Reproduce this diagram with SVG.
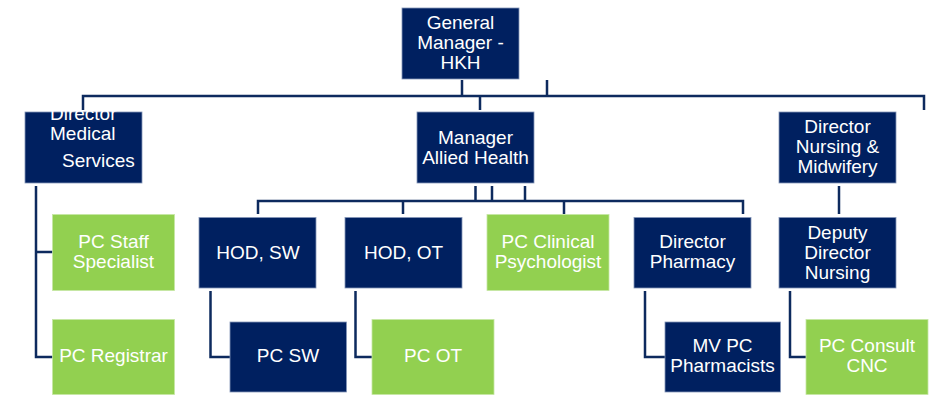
<svg xmlns="http://www.w3.org/2000/svg" width="935" height="397" viewBox="0 0 935 397">
  <style>
    .navy { fill: #002060; stroke: #8496b8; stroke-width: 0.8; }
    .green { fill: #92d050; stroke: #c6e6a4; stroke-width: 0.8; }
    .lbl { font-family: "Liberation Sans", Arial, sans-serif; font-size: 19px; fill: #ffffff; text-anchor: middle; }
    .left { text-anchor: start; }
    .wire { fill: none; stroke: #0d2a5e; stroke-width: 2.5; stroke-linejoin: miter; }
  </style>
  <rect width="935" height="397" fill="#ffffff"/>

  <!-- connectors -->
  <g id="connectors" class="wire">
    <!-- top bus -->
    <path d="M462 80 V96 M547 80 V96 M83 110 V96 H924 V110 M480 96 V110"/>
    <!-- allied health bus -->
    <path d="M475.5 186 V201 M492 186 V201 M525 186 V201 M258 214 V201 H743 V214 M403 201 V214 M564 201 V214"/>
    <!-- medical services -->
    <path d="M36 186 V357 H53 M36 252 H53"/>
    <!-- nursing -->
    <path d="M839 186 V214"/>
    <!-- second row to third row -->
    <path d="M210.5 291 V357 H230 M355.5 291 V357 H372 M645 291 V357 H665 M790 291 V357 H806"/>
  </g>

  <g id="general-manager">
    <rect class="navy" x="402" y="8" width="117" height="71"/>
    <text class="lbl" x="460.5" y="29">General</text>
    <text class="lbl" x="460.5" y="49">Manager -</text>
    <text class="lbl" x="460.5" y="69">HKH</text>
  </g>

  <g id="director-medical">
    <rect class="navy" x="25" y="112" width="117" height="71"/>
    <text class="lbl left" x="50" y="119.5">Director</text>
    <text class="lbl left" x="50" y="140">Medical</text>
    <text class="lbl left" x="62" y="167">Services</text>
  </g>

  <g id="manager-allied-health">
    <rect class="navy" x="417" y="112" width="117" height="71"/>
    <text class="lbl" x="475.5" y="144">Manager</text>
    <text class="lbl" x="475.5" y="164">Allied Health</text>
  </g>

  <g id="director-nursing">
    <rect class="navy" x="779" y="112" width="117" height="71"/>
    <text class="lbl" x="837.5" y="133">Director</text>
    <text class="lbl" x="837.5" y="153">Nursing &amp;</text>
    <text class="lbl" x="837.5" y="173">Midwifery</text>
  </g>

  <g id="pc-staff-specialist">
    <rect class="green" x="52.5" y="214.5" width="122" height="76"/>
    <text class="lbl" x="113.5" y="248">PC Staff</text>
    <text class="lbl" x="113.5" y="268">Specialist</text>
  </g>

  <g id="hod-sw">
    <rect class="navy" x="199" y="217.5" width="117" height="70.5"/>
    <text class="lbl" x="258" y="259">HOD, SW</text>
  </g>

  <g id="hod-ot">
    <rect class="navy" x="345" y="217.5" width="117" height="70.5"/>
    <text class="lbl" x="403.5" y="259">HOD, OT</text>
  </g>

  <g id="pc-clinical-psychologist">
    <rect class="green" x="487" y="214.5" width="122" height="76"/>
    <text class="lbl" x="548" y="248">PC Clinical</text>
    <text class="lbl" x="548" y="268">Psychologist</text>
  </g>

  <g id="director-pharmacy">
    <rect class="navy" x="634" y="217.5" width="117" height="70.5"/>
    <text class="lbl" x="692.5" y="248">Director</text>
    <text class="lbl" x="692.5" y="268">Pharmacy</text>
  </g>

  <g id="deputy-director-nursing">
    <rect class="navy" x="779" y="217.5" width="117" height="70.5"/>
    <text class="lbl" x="837.5" y="238.5">Deputy</text>
    <text class="lbl" x="837.5" y="259">Director</text>
    <text class="lbl" x="837.5" y="278.5">Nursing</text>
  </g>

  <g id="pc-registrar">
    <rect class="green" x="52.5" y="319.5" width="122" height="75"/>
    <text class="lbl" x="113.5" y="362">PC Registrar</text>
  </g>

  <g id="pc-sw">
    <rect class="navy" x="230" y="322" width="116.5" height="70"/>
    <text class="lbl" x="288" y="362">PC SW</text>
  </g>

  <g id="pc-ot">
    <rect class="green" x="372" y="319.5" width="122" height="75"/>
    <text class="lbl" x="433" y="362">PC OT</text>
  </g>

  <g id="mv-pc-pharmacists">
    <rect class="navy" x="665" y="322" width="115.5" height="70"/>
    <text class="lbl" x="722.5" y="352">MV PC</text>
    <text class="lbl" x="722.5" y="372">Pharmacists</text>
  </g>

  <g id="pc-consult-cnc">
    <rect class="green" x="806" y="319.5" width="122" height="75"/>
    <text class="lbl" x="867" y="352">PC Consult</text>
    <text class="lbl" x="867" y="372">CNC</text>
  </g>
</svg>
